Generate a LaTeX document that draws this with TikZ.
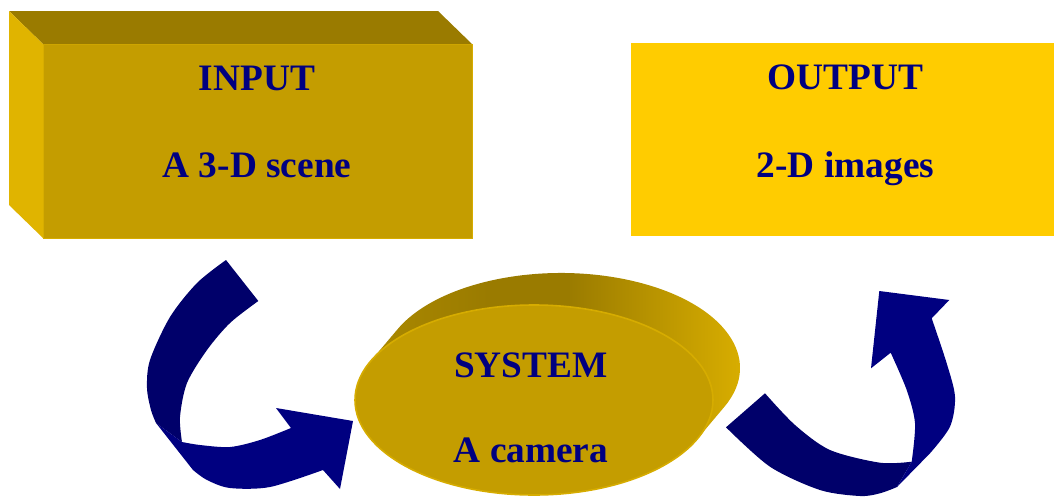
\documentclass[tikz,border=0pt]{standalone}
\usepackage{fontspec}
\setmainfont{Liberation Serif}
\usepackage{tikz}
\usetikzlibrary{shapes.geometric, calc}
\definecolor{txtnavy}{HTML}{000080}
\definecolor{arrnavy}{HTML}{000080}
\definecolor{arrdark}{HTML}{00006A}
\definecolor{goldfront}{HTML}{C49D00}
\definecolor{goldtop}{HTML}{9A7B00}
\definecolor{goldside}{HTML}{E0B400}
\definecolor{goldrim}{HTML}{D6AC00}
\definecolor{yellowbox}{HTML}{FFCC00}
\pgfdeclarehorizontalshading{cylshade}{100bp}{
  color(0bp)=(goldtop!60!goldfront); color(25bp)=(goldtop!60!goldfront);
  color(40bp)=(goldtop); color(50bp)=(goldtop); color(75bp)=(goldside);
  color(100bp)=(goldside)}

\begin{document}
\begin{tikzpicture}[x=0.75pt, y=-0.75pt,
    lbl/.style={anchor=base, text=txtnavy, inner sep=0pt,
      font=\fontsize{28}{33}\selectfont\bfseries},
    facebox/.style={rectangle, inner sep=0pt, outer sep=0pt,
      minimum width=321.75pt, minimum height=145.5pt},
    disc/.style={ellipse, inner sep=0pt, outer sep=0pt,
      minimum width=268.5pt, minimum height=142.5pt},
  ]
    \useasboundingbox (0,0) rectangle (1054,497);

    % input block, drawn as a box with top and left faces
    \node[facebox, fill=goldfront, draw=goldrim, line width=0.6pt] (in) at (257.5,141) {};
    \fill[goldtop] (in.north west) -- ++(-34,-33) -- ++(429,0) -- (in.north east) -- cycle;
    \fill[goldside] (in.north west) -- ++(-34,-33) -- ++(0,194) -- (in.south west) -- cycle;

    % output block, flat
    \node[facebox, fill=yellowbox, minimum width=316.9pt, minimum height=145.1pt] (out) at (842.75,139.75) {};

    % the system disc: side of the cylinder, then its face
    \coordinate (fl) at (370.6,361.2);
    \coordinate (bl) at (397.6,329.2);
    \coordinate (fr) at (697.4,438.8);
    \shade[shading=cylshade]
      (fl) -- (bl) arc[start angle=204.1, end angle=384.1, x radius=179, y radius=95]
      -- (fr) -- cycle;
    \node[disc, fill=goldfront, draw=goldrim, line width=1.2pt] (sys) at (534,400) {};

    % left arrow, in two bands
    \fill[arrdark] (226,260) -- (258.3,301)
      -- plot[smooth] coordinates {(258.3,301) (230,323) (207,350) (187,383) (180,417) (182,442)}
      -- (156,423)
      -- plot[smooth] coordinates {(156,423) (151,410) (147,388) (150,360) (170,317) (197,283) (226,260)}
      -- cycle;
    \fill[arrnavy] (156,423) -- (193,470)
      -- plot[smooth] coordinates {(193,470) (207,480) (230,488) (270,487) (323,470)}
      -- (340,489) -- (353,421) -- (276,408) -- (291,428)
      -- plot[smooth] coordinates {(291,428) (260,440) (230,447) (200,445) (182,442)}
      -- cycle;

    % right arrow, in two bands
    \fill[arrdark] (765,393.3) -- (726,427.3)
      -- plot[smooth] coordinates {(726,427.3) (770,466.7) (820,490) (860,496) (880,493.3) (897,487)}
      -- (911.7,461.7)
      -- plot[smooth] coordinates {(911.7,461.7) (880,462.7) (830,450) (795,425) (765,393.3)}
      -- cycle;
    \fill[arrnavy] (897,487) -- (930,453.3)
      -- plot[smooth] coordinates {(930,453.3) (950,426.7) (955,396.7) (946.7,363.3) (931.7,318.3)}
      -- (949.3,300) -- (879.3,291) -- (871,368.3) -- (890.7,352.7)
      -- plot[smooth] coordinates {(890.7,352.7) (906.7,390) (915,423.3) (911.7,461.7)}
      -- cycle;

    \node[lbl] (inT)  at (257,90)    {INPUT};
    \node[lbl] (inS)  at (257,177)   {A 3-D scene};
    \node[lbl] (outT) at (845.5,89)  {OUTPUT};
    \node[lbl] (outS) at (845.5,177) {2-D images};
    \node[lbl] (sysT) at (531,377)   {SYSTEM};
    \node[lbl] (sysS) at (531,462)   {A camera};
\end{tikzpicture}
\end{document}
